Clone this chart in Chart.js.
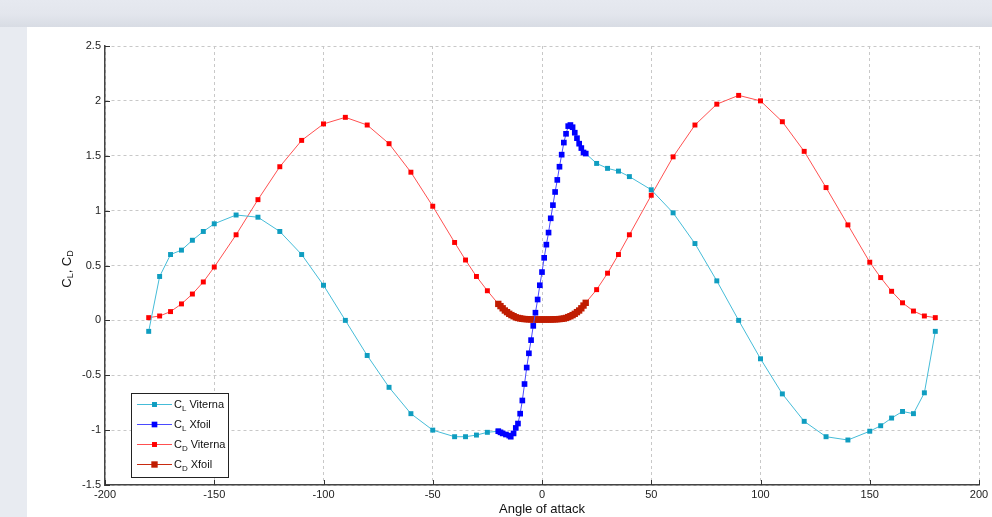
<!DOCTYPE html>
<html>
<head>
<meta charset="utf-8">
<script src="https://cdn.jsdelivr.net/npm/chart.js@4.4.1/dist/chart.umd.min.js"></script>
<style>
  html, body { margin: 0; padding: 0; width: 992px; height: 517px; overflow: hidden; }
  body { background: #e8ebf1; position: relative; }
  #band { position: absolute; left: 0; top: 0; width: 992px; height: 27px;
          background: linear-gradient(#e6e9f0 0px, #e3e6ed 14px, #d8dce4 27px); }
  #panel { position: absolute; left: 27px; top: 27px; width: 965px; height: 490px; background: #fff; }
  #chart { position: absolute; left: 0; top: 0; }
</style>
</head>
<body>
<div id="band"></div>
<div id="panel"></div>
<canvas id="chart" width="992" height="517"></canvas>
<script>
// Lift coefficient, Viterna extrapolation (gap where Xfoil data is used)
const clVitAngle = [-180, -175, -170, -165, -160, -155, -150, -140, -130, -120, -110, -100, -90, -80, -70, -60, -50, -40, -35, -30, -25, -20,
  0,
  20, 25, 30, 35, 40, 50, 60, 70, 80, 90, 100, 110, 120, 130, 140, 150, 155, 160, 165, 170, 175, 180];
const clVitValue = [-0.1, 0.4, 0.6, 0.64, 0.73, 0.81, 0.88, 0.96, 0.94, 0.81, 0.6, 0.32, 0.0, -0.32, -0.61, -0.85, -1.0, -1.06, -1.06, -1.045, -1.02, -1.01,
  null,
  1.52, 1.43, 1.385, 1.36, 1.31, 1.19, 0.98, 0.70, 0.36, 0.0, -0.35, -0.67, -0.92, -1.06, -1.09, -1.01, -0.96, -0.89, -0.83, -0.85, -0.66, -0.1];

// Lift coefficient, Xfoil
const clXfAngle = [-20, -19, -18, -16.5, -15, -14.3, -13, -12, -11, -10, -9, -8, -7, -6, -5, -4, -3, -2, -1, 0,
  1, 2, 3, 4, 5, 6, 7, 8, 9, 10, 11, 12, 13, 14, 15, 16, 17, 18, 19, 20];
const clXfValue = [-1.01, -1.02, -1.03, -1.04, -1.05, -1.06, -1.03, -0.98, -0.94, -0.85, -0.73, -0.58, -0.43, -0.30, -0.18, -0.05, 0.07, 0.19, 0.32, 0.44,
  0.57, 0.69, 0.80, 0.93, 1.05, 1.17, 1.28, 1.40, 1.51, 1.62, 1.70, 1.77, 1.78, 1.76, 1.71, 1.66, 1.61, 1.57, 1.53, 1.52];

// Drag coefficient, Viterna extrapolation
const cdVitAngle = [-180, -175, -170, -165, -160, -155, -150, -140, -130, -120, -110, -100, -90, -80, -70, -60, -50, -40, -35, -30, -25, -20,
  0,
  20, 25, 30, 35, 40, 50, 60, 70, 80, 90, 100, 110, 120, 130, 140, 150, 155, 160, 165, 170, 175, 180];
const cdVitValue = [0.025, 0.04, 0.08, 0.15, 0.24, 0.35, 0.486, 0.78, 1.10, 1.40, 1.64, 1.79, 1.85, 1.78, 1.61, 1.35, 1.04, 0.71, 0.55, 0.40, 0.27, 0.15,
  null,
  0.16, 0.28, 0.43, 0.60, 0.78, 1.14, 1.49, 1.78, 1.97, 2.05, 2.0, 1.81, 1.54, 1.21, 0.87, 0.53, 0.39, 0.265, 0.16, 0.085, 0.04, 0.025];

// Drag coefficient, Xfoil
const cdXfAngle = [-20, -19, -18, -17, -16, -15, -14, -13, -12, -11, -10, -9, -8, -7, -6, -5, -4, -3, -2, -1, 0,
  1, 2, 3, 4, 5, 6, 7, 8, 9, 10, 11, 12, 13, 14, 15, 16, 17, 18, 19, 20];
const cdXfValue = [0.15, 0.13, 0.11, 0.09, 0.075, 0.06, 0.048, 0.038, 0.028, 0.022, 0.018, 0.014, 0.012, 0.011, 0.01, 0.009, 0.008, 0.008, 0.008, 0.008, 0.008,
  0.008, 0.008, 0.008, 0.008, 0.009, 0.01, 0.011, 0.012, 0.014, 0.017, 0.022, 0.03, 0.038, 0.048, 0.06, 0.075, 0.09, 0.11, 0.135, 0.16];

const xTicks = [-200, -150, -100, -50, 0, 50, 100, 150, 200];
const yTicks = [-1.5, -1, -0.5, 0, 0.5, 1, 1.5, 2, 2.5];

const tickFont = { family: "'Liberation Sans Narrow', 'Liberation Sans', Arial, sans-serif", size: 11 };

function toPoints(xs, ys) {
  return xs.map((x, i) => ({ x: x, y: ys[i] }));
}

function series(name, sub, src, xs, ys, line, mark, r, order) {
  return {
    label: name, symbol: sub, source: src,
    data: toPoints(xs, ys),
    showLine: true,
    borderColor: line,
    borderWidth: 1,
    backgroundColor: mark,
    pointBackgroundColor: mark,
    pointStyle: "rect",
    pointRadius: r,
    pointBorderWidth: 0,
    pointHoverRadius: r,
    tension: 0,
    spanGaps: false,
    order: order,
  };
}

// inward ticks like the original plot
const innerTicks = {
  id: "innerTicks",
  afterDraw(chart) {
    const { ctx, chartArea: a, scales } = chart;
    ctx.save();
    ctx.strokeStyle = "#333";
    ctx.lineWidth = 1;
    ctx.beginPath();
    xTicks.forEach((v) => {
      const px = Math.round(scales.x.getPixelForValue(v)) + 0.5;
      ctx.moveTo(px, a.bottom);
      ctx.lineTo(px, a.bottom - 5);
    });
    yTicks.forEach((v) => {
      const py = Math.round(scales.y.getPixelForValue(v)) + 0.5;
      ctx.moveTo(a.left, py);
      ctx.lineTo(a.left + 5, py);
    });
    ctx.stroke();
    ctx.restore();
  },
};

// y axis title with subscripts
const yTitle = {
  id: "yTitle",
  afterDraw(chart) {
    const ctx = chart.ctx;
    const big = "13px 'Liberation Sans', Arial, sans-serif";
    const small = "9px 'Liberation Sans', Arial, sans-serif";
    const parts = [["C", big, 0], ["L", small, 4], [", C", big, 0], ["D", small, 4]];
    ctx.save();
    let total = 0;
    parts.forEach((p) => { ctx.font = p[1]; total += ctx.measureText(p[0]).width; });
    ctx.translate(67, 269);
    ctx.rotate(-Math.PI / 2);
    ctx.fillStyle = "#111";
    ctx.textBaseline = "middle";
    let x = -total / 2;
    parts.forEach((p) => {
      ctx.font = p[1];
      ctx.fillText(p[0], x, p[2]);
      x += ctx.measureText(p[0]).width;
    });
    ctx.restore();
  },
};

// boxed legend with subscripts
const boxLegend = {
  id: "boxLegend",
  afterDraw(chart) {
    const ctx = chart.ctx;
    ctx.save();
    ctx.fillStyle = "#fff";
    ctx.fillRect(131.5, 393.5, 97, 84);
    ctx.strokeStyle = "#222";
    ctx.lineWidth = 1;
    ctx.strokeRect(131.5, 393.5, 97, 84);
    chart.data.datasets.forEach((ds, i) => {
      const y = 404.5 + i * 20;
      ctx.strokeStyle = ds.borderColor;
      ctx.beginPath();
      ctx.moveTo(137, y);
      ctx.lineTo(172, y);
      ctx.stroke();
      const s = ds.pointRadius * Math.SQRT1_2;
      ctx.fillStyle = ds.pointBackgroundColor;
      ctx.fillRect(154.5 - s, y - s, 2 * s, 2 * s);
      ctx.fillStyle = "#111";
      ctx.textBaseline = "middle";
      ctx.font = "11px 'Liberation Sans', Arial, sans-serif";
      let x = 174;
      ctx.fillText("C", x, y);
      x += ctx.measureText("C").width;
      ctx.font = "8px 'Liberation Sans', Arial, sans-serif";
      ctx.fillText(ds.symbol, x, y + 4);
      x += ctx.measureText(ds.symbol).width + 3;
      ctx.font = "11px 'Liberation Sans', Arial, sans-serif";
      ctx.fillText(ds.source, x, y);
    });
    ctx.restore();
  },
};

new Chart(document.getElementById("chart").getContext("2d"), {
  type: "scatter",
  data: {
    datasets: [
      series("CL Viterna", "L", "Viterna", clVitAngle, clVitValue, "#45bcd8", "#0f9dc0", 3.5, 1),
      series("CL Xfoil", "L", "Xfoil", clXfAngle, clXfValue, "#4a4aff", "#0000ff", 4, 0),
      series("CD Viterna", "D", "Viterna", cdVitAngle, cdVitValue, "#ff5050", "#ff0000", 3.5, 1),
      series("CD Xfoil", "D", "Xfoil", cdXfAngle, cdXfValue, "#c82a10", "#c01c00", 4.5, 0),
    ],
  },
  options: {
    responsive: false,
    animation: false,
    events: [],
    layout: { padding: { top: 46, right: 13, left: 0, bottom: 0 } },
    plugins: {
      legend: { display: false },
      tooltip: { enabled: false },
    },
    scales: {
      x: {
        type: "linear",
        min: -200,
        max: 200,
        afterFit: (s) => { s.height = 32; },
        afterBuildTicks: (s) => { s.ticks = xTicks.map((v) => ({ value: v })); },
        ticks: { font: tickFont, color: "#222", padding: 3, maxRotation: 0, autoSkip: false,
                 callback: (v) => String(v) },
        grid: { color: "#c8c8c8", lineWidth: 1, drawTicks: false },
        border: { display: true, color: "#444", width: 1.5, dash: [3, 3] },
        title: {
          display: true,
          text: "Angle of attack",
          color: "#111",
          font: { family: "'Liberation Sans', Arial, sans-serif", size: 13 },
          padding: { top: 0, bottom: 0 },
        },
      },
      y: {
        type: "linear",
        min: -1.5,
        max: 2.5,
        afterFit: (s) => { s.width = 105; },
        afterBuildTicks: (s) => { s.ticks = yTicks.map((v) => ({ value: v })); },
        ticks: { font: tickFont, color: "#222", padding: 4, callback: (v) => String(v) },
        grid: { color: "#c8c8c8", lineWidth: 1, drawTicks: false },
        border: { display: true, color: "#444", width: 1.5, dash: [3, 3] },
      },
    },
  },
  plugins: [innerTicks, yTitle, boxLegend],
});
</script>
</body>
</html>
